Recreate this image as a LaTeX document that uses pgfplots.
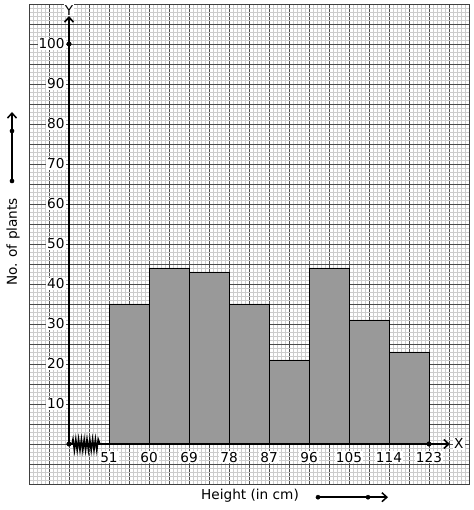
\documentclass[border=0pt]{standalone}
\usepackage{pgfplots}
\pgfplotsset{compat=1.18}
\usepackage{fontspec}
\setmainfont{DejaVu Sans}
\usetikzlibrary{arrows.meta}
\definecolor{barfill}{RGB}{153,153,153}
\begin{document}
\begin{tikzpicture}[x=1bp,y=1bp]
\useasboundingbox (-29,-26) rectangle (445,484);
\begin{axis}[
 at={(0,0)}, anchor=south west,
 scale only axis, width=440bp, height=480bp,
 xmin=-1, xmax=10, ymin=-10, ymax=110,
 xtick={-1,-0.5,...,10}, ytick={-10,-5,...,110},
 minor x tick num=4, minor y tick num=4,
 xticklabels={}, yticklabels={},
 major tick length=0pt, minor tick length=0pt,
 grid=both,
 major grid style={black!70, line width=0.7pt},
 minor grid style={black!20, line width=0.9pt},
 axis line style={black!75},
 clip=false,
 font=\fontsize{13.7}{16}\selectfont,
]
\addplot[ybar interval, fill=barfill, draw=black, line width=0.8pt]
 coordinates {(1,35)(2,44)(3,43)(4,35)(5,21)(6,44)(7,31)(8,23)(9,23)};
% axes
\draw[line width=1.6pt, -{Straight Barb[length=5pt,width=9pt]}] (axis cs:0,0) -- (axis cs:0,107);
\draw[line width=1.6pt, -{Straight Barb[length=5pt,width=9pt]}] (axis cs:0,0) -- (axis cs:9.525,0);
\draw[line width=1.5pt, line join=miter] (axis cs:0.075,0) -- (axis cs:0.10,1.2) -- (axis cs:0.135,-1.6) -- (axis cs:0.17,1.2) -- (axis cs:0.205,-1.6) -- (axis cs:0.24,1.2) -- (axis cs:0.275,-1.6) -- (axis cs:0.31,1.2) -- (axis cs:0.345,-1.6) -- (axis cs:0.38,1.2) -- (axis cs:0.415,-1.6) -- (axis cs:0.45,1.2) -- (axis cs:0.485,-1.6) -- (axis cs:0.52,1.2) -- (axis cs:0.555,-1.6) -- (axis cs:0.59,1.2) -- (axis cs:0.625,-1.6) -- (axis cs:0.66,1.2) -- (axis cs:0.695,-1.6) -- (axis cs:0.73,1.2) -- (axis cs:0.775,0);
\addplot[only marks, mark=*, mark size=2.3pt, black] coordinates {(0,0)(0,100)(9,0)};
\node[fill=white, inner sep=1pt] at (axis cs:0,108.4) {Y};
\node[fill=white, inner sep=1pt, anchor=west] at (axis cs:9.6,0) {X};
\pgfplotsinvokeforeach{10,20,...,100}{
 \node[fill=white, inner sep=1pt, anchor=east] at (axis cs:-0.08,#1) {#1};
}
\node[fill=white, inner sep=1pt] at (axis cs:1,-3.3) {51};
\node[fill=white, inner sep=1pt] at (axis cs:2,-3.3) {60};
\node[fill=white, inner sep=1pt] at (axis cs:3,-3.3) {69};
\node[fill=white, inner sep=1pt] at (axis cs:4,-3.3) {78};
\node[fill=white, inner sep=1pt] at (axis cs:5,-3.3) {87};
\node[fill=white, inner sep=1pt] at (axis cs:6,-3.3) {96};
\node[fill=white, inner sep=1pt] at (axis cs:7,-3.3) {105};
\node[fill=white, inner sep=1pt] at (axis cs:8,-3.3) {114};
\node[fill=white, inner sep=1pt] at (axis cs:9,-3.3) {123};
% axis titles
\node[rotate=90] at (axis cs:-1.4,50.5) {No. of plants};
\draw[line width=1.5pt, -{Straight Barb[length=5pt,width=9pt]}] (axis cs:-1.425,65.75) -- (axis cs:-1.425,83);
\addplot[only marks, mark=*, mark size=2.1pt, black] coordinates {(-1.425,65.75)(-1.425,78.25)};
\node at (axis cs:4.525,-13) {Height (in cm)};
\draw[line width=1.5pt, -{Straight Barb[length=5pt,width=9pt]}] (axis cs:6.225,-13.3) -- (axis cs:7.975,-13.3);
\addplot[only marks, mark=*, mark size=2.1pt, black] coordinates {(6.225,-13.3)(7.475,-13.3)};
\end{axis}
\end{tikzpicture}
\end{document}
